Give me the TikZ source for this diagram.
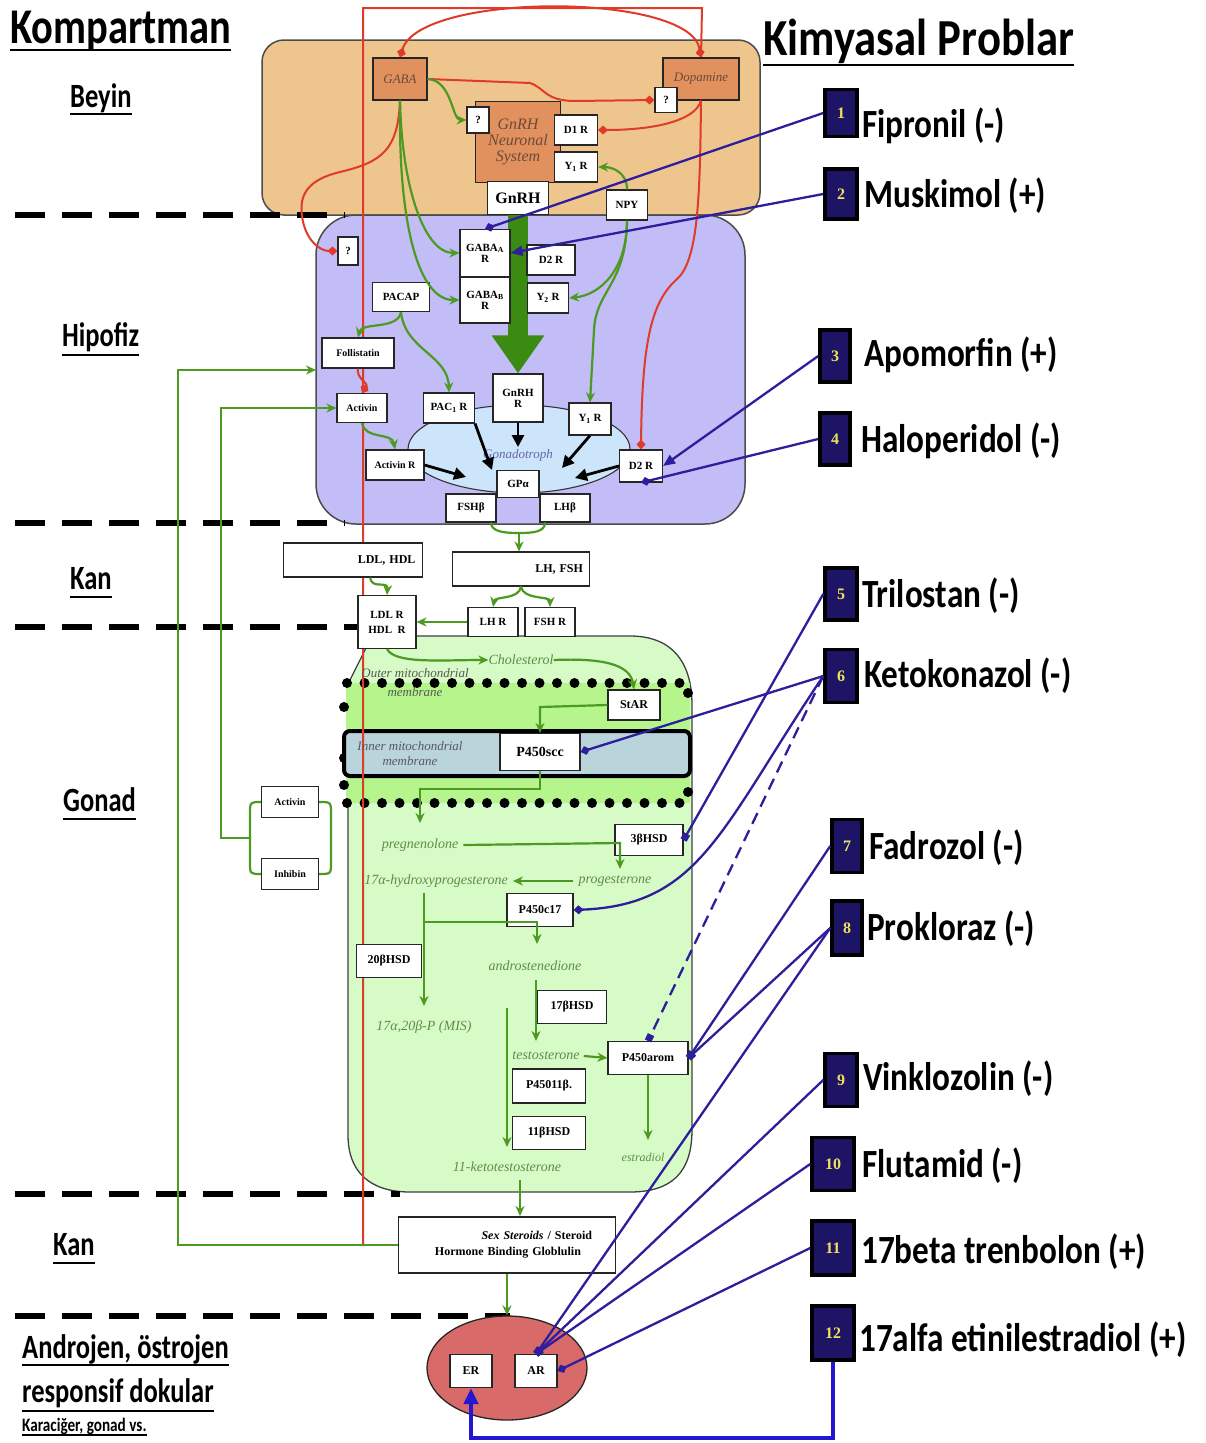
\documentclass[tikz,border=0pt]{standalone}
\usepackage{fontspec}
\setmainfont{Liberation Serif}
\newfontfamily\calfont{Carlito}
\usepackage{graphicx}
\usetikzlibrary{arrows.meta,shapes.geometric,calc}
\pgfdeclarelayer{bg}
\pgfdeclarelayer{mid}
\pgfsetlayers{bg,mid,main}
\definecolor{tanbg}{HTML}{EFC58E}
\definecolor{orbox}{HTML}{E0915E}
\definecolor{lav}{HTML}{C2BCF7}
\definecolor{gonbg}{HTML}{D7FBC6}
\definecolor{mito}{HTML}{B5F58C}
\definecolor{innerm}{HTML}{BAD4DC}
\definecolor{gtroph}{HTML}{CCE5FA}
\definecolor{redell}{HTML}{D96A6A}
\definecolor{gline}{HTML}{4C9A22}
\definecolor{gdark}{HTML}{3B8A12}
\definecolor{gtext}{HTML}{5E8C48}
\definecolor{rline}{HTML}{E03A28}
\definecolor{bline}{HTML}{2E1E9C}
\definecolor{navy}{HTML}{1E1466}
\definecolor{numy}{HTML}{EDE35A}
\definecolor{blue12}{HTML}{2318D0}
\definecolor{nstext}{HTML}{6E4A36}
\newcommand{\fsz}[1]{\fontsize{#1}{#1}\selectfont}
\newcommand{\hdtext}[3]{{\calfont\bfseries\fontsize{#1}{#1}\selectfont\scalebox{#2}[1]{#3}}}
\tikzset{
 wbox/.style={draw=black!85, fill=white, line width=1.1pt, inner sep=0pt, align=center, font=\bfseries\fsz{11}},
 obox/.style={draw=black!85, fill=orbox, line width=1.1pt, inner sep=0pt, align=center, font=\itshape\fsz{13}, text=nstext},
 numbox/.style={draw=black, fill=navy, line width=3.5pt, inner sep=0pt, text=numy, font=\bfseries\fsz{16}},
 gtxt/.style={inner sep=0pt, text=gtext, font=\itshape\fsz{14}},
 mtxt/.style={inner sep=0pt, text=black!65, font=\itshape\fsz{13}, align=center},
 hd/.style={inner sep=0pt, anchor=base west},
 probe/.style={inner sep=0pt, anchor=west},
 garrow/.style={draw=gline, line width=2.2pt, -{Stealth[length=10pt,width=9pt]}},
 gplain/.style={draw=gline, line width=2.2pt},
 rdia/.style={draw=rline, line width=2pt, -{Diamond[length=10pt,width=9pt]}},
 rplain/.style={draw=rline, line width=2pt},
 bsq/.style={draw=bline, line width=2.3pt, -{Square[length=7pt,width=7pt]}},
 bdia/.style={draw=bline, line width=2.3pt, -{Diamond[length=10pt,width=9pt]}},
 barrowhead/.style={draw=bline, line width=2.3pt, -{Triangle[length=12pt,width=10pt]}},
 karrow/.style={draw=black, line width=2.8pt, -{Triangle[length=12pt,width=12pt]}},
 sep/.style={line width=6pt, dash pattern=on 30pt off 17pt},
 uline/.style={line width=2.6pt}
}
\begin{document}
\begin{tikzpicture}[x=1pt,y=-1pt]
\useasboundingbox (0,0) rectangle (1205,1443);
\begin{pgfonlayer}{bg}
\fill[white] (0,0) rectangle (1205,1443);
% compartments
\draw[fill=tanbg, draw=black!70, line width=1.5pt, rounded corners=22pt] (262,40) rectangle (760,215);
\draw[fill=lav, draw=black!70, line width=1.5pt, rounded corners=40pt] (316,215) rectangle (745,524);
\draw[fill=gonbg, draw=black!75, line width=1.3pt] (416,636) -- (630,636) .. controls (672,636) and (692,662) .. (692,705) -- (692,1130) .. controls (692,1172) and (672,1192) .. (630,1192) -- (410,1192) .. controls (370,1192) and (348,1172) .. (348,1135) -- (348,684) -- (366,648);
\fill[mito] (346,683) rectangle (690,803);
\foreach \i in {0,...,19} \fill (347+\i*17.5,683) circle (5pt);
\foreach \i in {0,...,19} \fill (347+\i*17.5,803) circle (5pt);
\foreach \yy in {707,758,785} \fill (344,\yy) circle (5pt);
\foreach \yy in {693,792} \fill (688,\yy) circle (5pt);
\draw[fill=innerm, line width=4pt, rounded corners=6pt] (344,731) rectangle (690,776);
% separators
\draw[sep] (15,215) -- (345,215);
\draw[sep] (15,523) -- (345,523);
\draw[sep] (15,627) -- (360,627);
\draw[sep] (15,1194) -- (400,1194);
\draw[sep] (15,1316) -- (510,1316);
\end{pgfonlayer}

% ---------- headings ----------
\node[hd] (kom) at (10,43) {\hdtext{50}{0.81}{Kompartman}};
\node[hd] (kim) at (763,55) {\hdtext{52}{0.86}{Kimyasal Problar}};
\node[hd] (bey) at (70,107) {\hdtext{34}{0.78}{Beyin}};
\node[hd] (hip) at (62,346) {\hdtext{34}{0.78}{Hipofiz}};
\node[hd] (kan1) at (70,589) {\hdtext{34}{0.78}{Kan}};
\node[hd] (gon) at (63,811) {\hdtext{34}{0.78}{Gonad}};
\node[hd] (kan2) at (53,1255) {\hdtext{34}{0.78}{Kan}};
\node[hd] (and) at (22,1358) {\hdtext{34}{0.78}{Androjen, östrojen}};
\node[hd] (res) at (22,1402) {\hdtext{34}{0.78}{responsif dokular}};
\node[hd] (kar) at (22,1431) {\hdtext{19}{0.80}{Karaciğer, gonad vs.}};
\foreach \n/\d in {kom/7,kim/10,bey/7,hip/9,kan1/8,gon/8,kan2/8,and/7,res/9}
  \draw[uline] ([yshift=-\d pt]\n.base west) -- ([yshift=-\d pt]\n.base east);
\draw[line width=1.4pt] ([yshift=-4pt]kar.base west) -- ([yshift=-4pt]kar.base east);

% ---------- brain ----------
\node[obox, minimum width=54, minimum height=42] (GABA) at (400,79) {GABA};
\node[obox, minimum width=76, minimum height=42] (DOP) at (701,79) {Dopamine};
\node[wbox, minimum width=22, minimum height=25] (qD) at (666,100) {?};
\node[obox, minimum width=85, minimum height=81, font=\itshape\fsz{16}] (GNS) at (518,142) {GnRH\\[0pt]Neuronal\\[0pt]System};
\node[wbox, minimum width=22, minimum height=26] (qG) at (478,120) {?};
\node[wbox, minimum width=43, minimum height=30] (D1R) at (576,130) {D1 R};
\node[wbox, minimum width=43, minimum height=30] (Y1Rb) at (576,167) {Y\textsubscript{1} R};
\node[wbox, minimum width=61, minimum height=33, font=\bfseries\fsz{16}] (GnRHb) at (518,198) {GnRH};
\node[wbox, minimum width=41, minimum height=30] (NPY) at (627,205) {NPY};

% ---------- pituitary ----------
\node[ellipse, draw=black!80, fill=gtroph, line width=1.1pt, minimum width=222, minimum height=88, inner sep=0pt] (GT) at (519,449) {};
\node[inner sep=0pt, text=black!55!blue!60, font=\itshape\fsz{13}] (GTl) at (518,455) {Gonadotroph};
\node[wbox, minimum width=20, minimum height=28] (qP) at (348,251) {?};
\node[wbox, minimum width=50, minimum height=47, font=\bfseries\fsz{11}] (GABAA) at (485,253) {GABA\textsubscript{A}\\R};
\node[wbox, minimum width=50, minimum height=46, font=\bfseries\fsz{11}] (GABAB) at (485,300) {GABA\textsubscript{B}\\R};
\node[wbox, minimum width=48, minimum height=30] (D2Ra) at (551,260) {D2 R};
\node[wbox, minimum width=41, minimum height=30] (Y2R) at (548,298) {Y\textsubscript{2} R};
\node[wbox, minimum width=57, minimum height=29] (PACAP) at (401,297) {PACAP};
\node[wbox, minimum width=72, minimum height=30, font=\bfseries\fsz{10}] (FOL) at (358,353) {Follistatin};
\node[wbox, minimum width=50, minimum height=29, font=\bfseries\fsz{10}] (ACT) at (362,408) {Activin};
\node[wbox, minimum width=51, minimum height=30] (PAC1R) at (449,408) {PAC\textsubscript{1} R};
\node[wbox, minimum width=50, minimum height=48, font=\bfseries\fsz{11}] (GnRHR) at (518,398) {GnRH\\R};
\node[wbox, minimum width=42, minimum height=32] (Y1Rp) at (590,419) {Y\textsubscript{1} R};
\node[wbox, minimum width=58, minimum height=30, font=\bfseries\fsz{10}] (ACTR) at (395,465) {Activin R};
\node[wbox, minimum width=43, minimum height=32] (D2Rb) at (641,466) {D2 R};
\node[wbox, minimum width=42, minimum height=27] (GPa) at (518,484) {GPα};
\node[wbox, minimum width=50, minimum height=28] (FSHb) at (471,508) {FSHβ};
\node[wbox, minimum width=50, minimum height=28] (LHb) at (565,508) {LHβ};

% ---------- blood ----------
\node[wbox, minimum width=139, minimum height=34, text width=125, align=right, font=\bfseries\fsz{12}] (LDLHDL) at (353,560) {LDL, HDL};
\node[wbox, minimum width=137, minimum height=34, text width=124, align=right, font=\bfseries\fsz{12}] (LHFSH) at (521,569) {LH, FSH};
\node[wbox, minimum width=50, minimum height=29] (LHR) at (493,622) {LH R};
\node[wbox, minimum width=50, minimum height=29] (FSHR) at (550,622) {FSH R};
\node[wbox, minimum width=58, minimum height=53] (LDLR) at (387,622) {LDL R\\[4pt]HDL\ \ R};

% ---------- gonad ----------
\node[gtxt] (CHOL) at (521,660) {Cholesterol};
\node[mtxt] (OMM) at (415,683) {Outer mitochondrial\\[6pt]membrane};
\node[mtxt] (IMM) at (410,754) {Inner mitochondrial\\[2pt]membrane};
\node[wbox, minimum width=52, minimum height=30, font=\bfseries\fsz{12}] (STAR) at (634,705) {StAR};
\node[wbox, minimum width=80, minimum height=37, font=\bfseries\fsz{14}] (SCC) at (540,752) {P450scc};
\node[wbox, minimum width=68, minimum height=31, font=\bfseries\fsz{12}] (HSD3) at (649,840) {3βHSD};
\node[gtxt] (PREG) at (420,845) {pregnenolone};
\node[gtxt] (PROG) at (615,881) {progesterone};
\node[gtxt] (OHP) at (436,881) {17α-hydroxyprogesterone};
\node[wbox, minimum width=66, minimum height=33, font=\bfseries\fsz{12}] (C17) at (540,910) {P450c17};
\node[wbox, minimum width=65, minimum height=33, font=\bfseries\fsz{12}] (HSD20) at (389,961) {20βHSD};
\node[gtxt] (ANDRO) at (535,966) {androstenedione};
\node[gtxt] (MIS) at (424,1027) {17α,20β-P (MIS)};
\node[wbox, minimum width=69, minimum height=33, font=\bfseries\fsz{12}] (HSD17) at (572,1007) {17βHSD};
\node[gtxt] (TEST) at (546,1056) {testosterone};
\node[wbox, minimum width=80, minimum height=33, font=\bfseries\fsz{12}] (AROM) at (648,1058) {P450arom};
\node[wbox, minimum width=73, minimum height=34, font=\bfseries\fsz{12}] (P11) at (549,1086) {P45011β.};
\node[wbox, minimum width=73, minimum height=33, font=\bfseries\fsz{12}] (HSD11) at (549,1133) {11βHSD};
\node[gtxt, font=\itshape\fsz{12}] (ESTR) at (643,1157) {estradiol};
\node[gtxt] (KETO) at (507,1167) {11-ketotestosterone};
\node[wbox, minimum width=57, minimum height=31, font=\bfseries\fsz{10}] (ACTG) at (290,802) {Activin};
\node[wbox, minimum width=57, minimum height=31, font=\bfseries\fsz{10}] (INH) at (290,874) {Inhibin};

% ---------- blood 2 / tissues ----------
\node[wbox, minimum width=217, minimum height=56, text width=170, align=right, font=\bfseries\fsz{12}] (SEX) at (507,1245) {\textit{Sex Steroids} / Steroid\\[4pt]Hormone Binding Globlulin\rule{11pt}{0pt}};
\node[ellipse, draw=black!85, fill=redell, line width=1.3pt, minimum width=160, minimum height=104, inner sep=0pt] (TIS) at (507,1368) {};
\node[wbox, minimum width=42, minimum height=33, font=\bfseries\fsz{12}] (ER) at (471,1371) {ER};
\node[wbox, minimum width=42, minimum height=33, font=\bfseries\fsz{12}] (AR) at (536,1371) {AR};

% ---------- probes ----------
\node[numbox, minimum width=32, minimum height=47] (p1) at (841,113) {1};
\node[numbox, minimum width=32, minimum height=50] (p2) at (841,194) {2};
\node[numbox, minimum width=30, minimum height=52] (p3) at (835,356) {3};
\node[numbox, minimum width=30, minimum height=52] (p4) at (835,439) {4};
\node[numbox, minimum width=32, minimum height=52] (p5) at (841,594) {5};
\node[numbox, minimum width=32, minimum height=53] (p6) at (841,676) {6};
\node[numbox, minimum width=30, minimum height=53] (p7) at (847,846) {7};
\node[numbox, minimum width=30, minimum height=54] (p8) at (847,928) {8};
\node[numbox, minimum width=32, minimum height=53] (p9) at (841,1080) {9};
\node[numbox, minimum width=42, minimum height=53] (p10) at (833,1164) {10};
\node[numbox, minimum width=42, minimum height=54] (p11) at (833,1248) {11};
\node[numbox, minimum width=42, minimum height=54] (p12) at (833,1333) {12};
\node[probe] (t1) at (862,126) {\hdtext{40}{0.83}{Fipronil (-)}};
\node[probe] (t2) at (864,196) {\hdtext{40}{0.83}{Muskimol (+)}};
\node[probe] (t3) at (864,355) {\hdtext{40}{0.83}{Apomorfin (+)}};
\node[probe] (t4) at (861,441) {\hdtext{40}{0.83}{Haloperidol (-)}};
\node[probe] (t5) at (862,596) {\hdtext{40}{0.83}{Trilostan (-)}};
\node[probe] (t6) at (864,676) {\hdtext{40}{0.83}{Ketokonazol (-)}};
\node[probe] (t7) at (869,848) {\hdtext{40}{0.83}{Fadrozol (-)}};
\node[probe] (t8) at (867,929) {\hdtext{40}{0.83}{Prokloraz (-)}};
\node[probe] (t9) at (863,1079) {\hdtext{40}{0.83}{Vinklozolin (-)}};
\node[probe] (t10) at (862,1166) {\hdtext{40}{0.83}{Flutamid (-)}};
\node[probe] (t11) at (861,1252) {\hdtext{40}{0.83}{17beta trenbolon (+)}};
\node[probe] (t12) at (859,1340) {\hdtext{40}{0.83}{17alfa etinilestradiol (+)}};

% ---------- connectors under boxes ----------
\begin{pgfonlayer}{mid}
\coordinate (rbl) at (363,1246);
\draw[rplain] (rbl) -- (363,8) -- (702,8) -- (DOP.north);
\draw[line width=20pt, draw=gdark, -{Triangle[length=38pt,width=50pt]}] (GnRHb.south) -- (GnRHR.north);
\end{pgfonlayer}

% red
\draw[draw=rline, line width=2pt, {Diamond[length=10pt,width=9pt]}-{Diamond[length=10pt,width=9pt]}] (GABA.north) .. controls (420,-8) and (690,-8) .. (DOP.north);
\draw[rdia] (GABA.east) -- (530,83) .. controls (545,88) and (545,101) .. (575,101) -- (qD.west);
\draw[rdia] (DOP.south) .. controls (695,122) and (650,130) .. (D1R.east);
\draw[rdia] (DOP.south) .. controls (700,200) and (698,262) .. (676,280) .. controls (652,302) and (642,340) .. (D2Rb.north);
\draw[rdia] (GABA.south) .. controls (398,150) and (382,162) .. (340,172) .. controls (302,181) and (300,200) .. (302,216) .. controls (305,240) and (320,251) .. (qP.west);
\draw[rdia] (FOL.south) .. controls (356,378) and (368,383) .. (ACT.north);
% green brain/pituitary
\draw[garrow] (GABA.east) .. controls (452,80) and (452,120) .. (qG.west);
\draw[garrow] (GABA.south) .. controls (402,190) and (425,253) .. (GABAA.west);
\draw[garrow] (GABA.south) .. controls (398,230) and (420,300) .. (GABAB.west);
\draw[garrow] (NPY.north) .. controls (627,172) and (612,167) .. (Y1Rb.east);
\draw[garrow] (NPY.south) .. controls (627,270) and (600,295) .. (Y2R.east);
\draw[garrow] (NPY.south) .. controls (626,285) and (596,290) .. (594,330) -- (Y1Rp.north);
\draw[garrow] (PACAP.south) .. controls (398,330) and (362,322) .. (FOL.north);
\draw[garrow] (PACAP.south) .. controls (405,350) and (448,355) .. (PAC1R.north);
\draw[garrow] (ACT.south) .. controls (365,440) and (392,432) .. (ACTR.north);
% black arrows to gonadotroph
\coordinate (k1) at (518,447);
\coordinate (k2) at (492,470);
\coordinate (k3) at (562,468);
\coordinate (k4) at (466,477);
\coordinate (k5) at (575,478);
\draw[karrow] (GnRHR.south) -- (k1);
\draw[karrow] (PAC1R.south east) -- (k2);
\draw[karrow] (Y1Rp.south) -- (k3);
\draw[karrow] (ACTR.east) -- (k4);
\draw[karrow] (D2Rb.west) -- (k5);
% gonadotropins to blood
\coordinate (lhj) at (519,533);
\draw[gplain] ([xshift=20pt]FSHb.south) .. controls (491,532) and (505,533) .. (lhj);
\draw[gplain] ([xshift=-20pt]LHb.south) .. controls (545,532) and (533,533) .. (lhj);
\draw[garrow] (lhj) -- (LHFSH.north -| lhj);
\draw[garrow] (LHFSH.south) .. controls (519,600) and (495,596) .. (LHR.north);
\draw[garrow] (LHFSH.south) .. controls (523,600) and (550,596) .. (FSHR.north);
\draw[garrow] (LHR.west) -- (LDLR.east);
\draw[garrow] ([xshift=17pt]LDLHDL.south) .. controls (372,590) and (388,580) .. (LDLR.north);
% steroidogenesis
\draw[garrow] (LDLR.south) .. controls (395,664) and (440,660) .. (CHOL.west);
\draw[garrow] (CHOL.east) .. controls (602,658) and (630,664) .. (STAR.north);
\draw[garrow] (STAR.west) -- (540,707) -- (SCC.north);
\coordinate (pregin) at (420,823);
\draw[garrow] (SCC.south) -- (540,789) -- (420,789) -- (pregin);
\coordinate (progin) at (620,869);
\draw[garrow] ([xshift=5pt]PREG.east) -- (620,843) -- (progin);
\draw[garrow] ([xshift=-5pt]PROG.west) -- ([xshift=5pt]OHP.east);
\coordinate (misin) at (424,1006);
\coordinate (ohpout) at (424,893);
\draw[garrow] (ohpout) -- (misin);
\coordinate (androin) at (537,944);
\draw[garrow] (424,922) -- (537,922) -- (androin);
\coordinate (testin) at (536,1041);
\draw[garrow] (536,980) -- (testin);
\coordinate (ktin) at (507,1147);
\draw[garrow] (507,1008) -- (ktin);
\draw[garrow] ([xshift=4pt]TEST.east) -- (AROM.west);
\coordinate (estin) at (648,1140);
\draw[garrow] (AROM.south) -- (estin);
\coordinate (sexin) at (520,1216);
\draw[garrow] (520,1180) -- (sexin);
\draw[garrow] (SEX.south) -- (TIS.north);
% long feedback lines
\coordinate (pitL) at (316,370);
\draw[garrow] (SEX.west) -- (178,1245) -- (178,370) -- (pitL);
\coordinate (brm) at (250,838);
\draw[garrow] (brm) -- (221,838) -- (221,408) -- (ACT.west);
\draw[gplain] (ACTG.west) .. controls (250,802) .. (250,814) -- (250,862) .. controls (250,874) .. (INH.west);
\draw[gplain] (ACTG.east) .. controls (331,802) .. (331,814) -- (331,862) .. controls (331,874) .. (INH.east);

% ---------- blue probe lines ----------
\draw[bdia] (p1.west) -- (GABAA.north);
\draw[barrowhead] (p2.west) -- (GABAA.east);
\draw[barrowhead] (p3.west) -- (D2Rb.east);
\draw[bdia] (p4.west) -- (D2Rb.south);
\draw[bsq] (p5.west) -- (HSD3.east);
\draw[bdia] (p6.west) -- (SCC.east);
\draw[bdia] (p6.west) .. controls (720,830) and (700,905) .. (C17.east);
\draw[bsq, dash pattern=on 12pt off 7pt] (p6.west) -- (AROM.north);
\draw[bsq] (p7.west) -- (AROM.east);
\draw[bsq] (p8.west) -- (AROM.east);
\draw[bsq] (p8.west) -- (AR.north);
\draw[bsq] (p9.west) -- (AR.north);
\draw[bsq] (p10.west) -- (AR.north);
\draw[bdia] (p11.west) -- (AR.east);
\draw[draw=blue12, line width=4pt, -{Triangle[length=16pt,width=14pt]}] (p12.south) -- (833,1438) -- (471,1438) -- (ER.south);
\end{tikzpicture}
\end{document}
